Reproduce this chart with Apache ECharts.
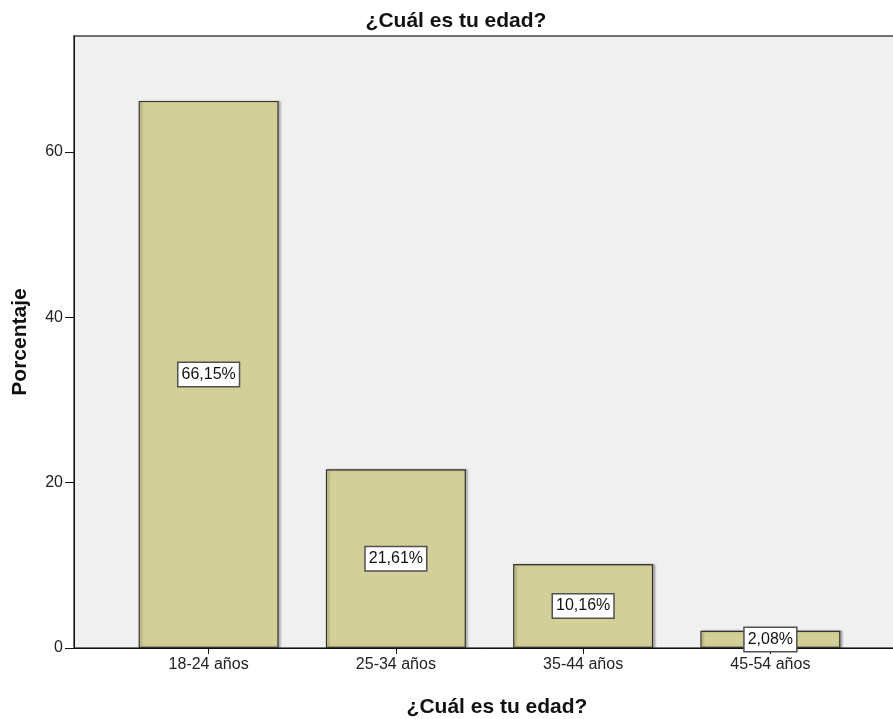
<!DOCTYPE html>
<html>
<head>
<meta charset="utf-8">
<style>
  html, body { margin: 0; padding: 0; background: #ffffff; }
  #chart { width: 893px; height: 719px; }
</style>
<script src="https://cdn.jsdelivr.net/npm/echarts@6/dist/echarts.min.js"></script>
</head>
<body>
<div id="chart"></div>
<script>
// Age groups and their share of respondents (%)
const categories = ['18-24 años', '25-34 años', '35-44 años', '45-54 años'];
const percentages = [66.15, 21.61, 10.16, 2.08];
const yTicks = [0, 20, 40, 60];

const chartTitle = '¿Cuál es tu edad?';
const xAxisTitle = '¿Cuál es tu edad?';
const yAxisTitle = 'Porcentaje';

const Y_MAX = 74;
const FONT = 'Liberation Sans, Arial, sans-serif';
const nameStyle = { fontFamily: FONT, fontSize: 21, fontWeight: 'bold', color: '#111' };

const chart = echarts.init(document.getElementById('chart'), null, { renderer: 'canvas' });

chart.setOption({
  animation: false,
  backgroundColor: '#ffffff',
  title: [
    { text: chartTitle, left: 451, top: 6, textAlign: 'center', textStyle: nameStyle },
    { text: xAxisTitle, left: 492, top: 692, textAlign: 'center', textStyle: nameStyle }
  ],
  grid: [
    // framed plot background
    { left: 74, top: 36, right: -4, bottom: 71, show: true, backgroundColor: '#f0f0f0',
      borderColor: '#707070', borderWidth: 2, outerBoundsMode: 'none' },
    // inner band area holding the categories
    { left: 115, top: 36, right: 29, bottom: 71, outerBoundsMode: 'none' }
  ],
  xAxis: [
    {
      gridIndex: 0, type: 'value', min: 0, max: 1,
      axisLine: { show: true, lineStyle: { color: '#111', width: 1 } },
      axisTick: { show: false }, axisLabel: { show: false }, splitLine: { show: false }
    },
    {
      gridIndex: 1, type: 'category', data: categories, boundaryGap: true,
      axisLine: { show: false },
      axisTick: { show: true, alignWithLabel: true, length: 6, lineStyle: { color: '#111' } },
      axisLabel: { fontFamily: FONT, fontSize: 16, color: '#222', margin: 9 }
    }
  ],
  yAxis: [
    {
      gridIndex: 0, type: 'value', min: 0, max: Y_MAX,
      axisLine: { show: true, lineStyle: { color: '#111', width: 1 } },
      axisTick: { show: true, length: 9, customValues: yTicks, lineStyle: { color: '#111' } },
      axisLabel: {
        fontFamily: FONT, fontSize: 16, color: '#222', margin: 11,
        customValues: yTicks
      },
      splitLine: { show: false },
      name: yAxisTitle, nameLocation: 'middle', nameGap: 43, nameRotate: 90,
      nameTextStyle: nameStyle
    },
    {
      gridIndex: 1, type: 'value', min: 0, max: Y_MAX, show: false
    }
  ],
  series: [
    {
      type: 'bar',
      xAxisIndex: 1,
      yAxisIndex: 1,
      data: percentages,
      barWidth: 140,
      itemStyle: {
        color: '#d3cf98',
        borderColor: '#33332c',
        borderWidth: 1.2,
        shadowColor: 'rgba(0,0,0,0.25)',
        shadowOffsetX: 2,
        shadowOffsetY: 0,
        shadowBlur: 2
      },
      label: {
        show: true,
        position: 'inside',
        formatter: p => p.value.toFixed(2).replace('.', ',') + '%',
        fontFamily: FONT,
        fontSize: 16,
        color: '#111',
        backgroundColor: '#ffffff',
        borderColor: '#505050',
        borderWidth: 1.5,
        padding: [4, 3, 3, 3]
      }
    }
  ]
});
</script>
</body>
</html>
